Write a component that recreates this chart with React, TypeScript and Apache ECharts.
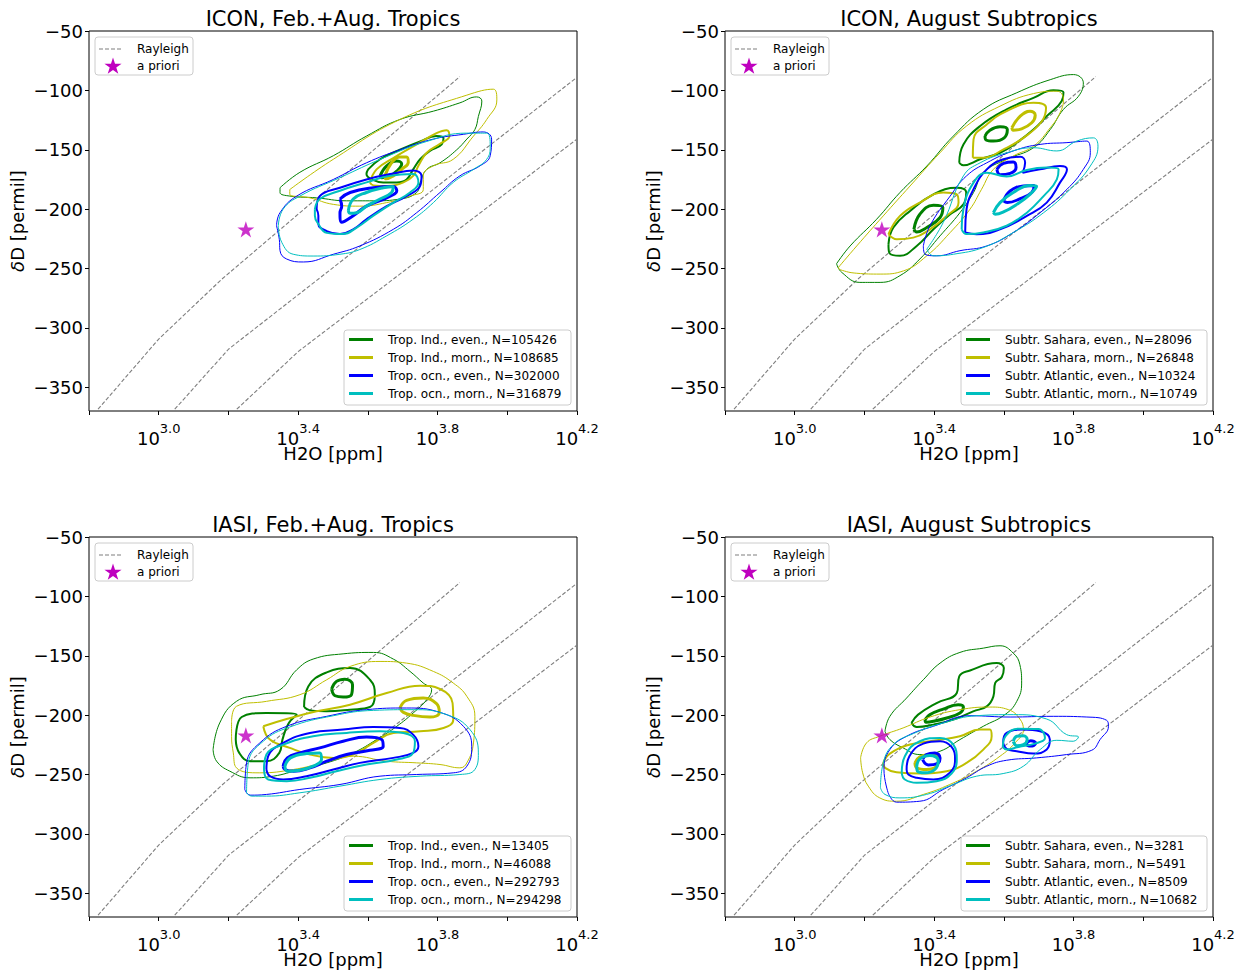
import { useEffect, useRef } from 'react';
import * as echarts from 'echarts';

type Loop = [number, number[][]];

// ---------- axes ----------
const X_MIN = 2.8;
const X_MAX = 4.2;
const Y_MIN = -370;
const Y_MAX = -50;
const X_TICKS = [2.8, 3.0, 3.2, 3.4, 3.6, 3.8, 4.0, 4.2];
const X_LABELS = [3.0, 3.4, 3.8, 4.2];
const Y_TICKS = [-350, -300, -250, -200, -150, -100, -50];

// ---------- Rayleigh curves (log10 H2O, dD) ----------
const RAYLEIGH_1 = [[2.826, -368.5], [3.0, -309.4], [3.181, -259], [3.864, -88.4]];
const RAYLEIGH_2 = [[3.046, -368.5], [3.2, -318], [4.2, -89]];
const RAYLEIGH_3 = [[3.224, -368.5], [3.4, -320], [4.2, -141]];
const A_PRIORI = [3.25, -217];

const TITLES = ['ICON, Feb.+Aug. Tropics', 'ICON, August Subtropics', 'IASI, Feb.+Aug. Tropics', 'IASI, August Subtropics'];
const NAMES_ICON_TROP = ['Trop. Ind., even., N=105426', 'Trop. Ind., morn., N=108685', 'Trop. ocn., even., N=302000', 'Trop. ocn., morn., N=316879'];
const NAMES_ICON_SUB = ['Subtr. Sahara, even., N=28096', 'Subtr. Sahara, morn., N=26848', 'Subtr. Atlantic, even., N=10324', 'Subtr. Atlantic, morn., N=10749'];
const NAMES_IASI_TROP = ['Trop. Ind., even., N=13405', 'Trop. Ind., morn., N=46088', 'Trop. ocn., even., N=292793', 'Trop. ocn., morn., N=294298'];
const NAMES_IASI_SUB = ['Subtr. Sahara, even., N=3281', 'Subtr. Sahara, morn., N=5491', 'Subtr. Atlantic, even., N=8509', 'Subtr. Atlantic, morn., N=10682'];

// ---------- ICON tropics contours: [level, points] ----------
const ICON_TROP_IND_EVEN: Loop[] = [
  [0, [[3.348, -182], [3.405, -169], [3.501, -155], [3.596, -138.5], [3.692, -124.5], [3.788, -117.5], [3.864, -110.5], [3.912, -105.5], [3.927, -109], [3.917, -122], [3.907, -133], [3.884, -141], [3.855, -150], [3.807, -161], [3.769, -166.5], [3.750, -177.5], [3.740, -186], [3.692, -191.5], [3.616, -193], [3.539, -193], [3.453, -190.5], [3.376, -189], [3.348, -186]]],
  [1, [[3.601, -166.5], [3.635, -158], [3.692, -150], [3.750, -143], [3.797, -138.5], [3.817, -140], [3.812, -145.5], [3.778, -151], [3.750, -158], [3.730, -166.5], [3.711, -175], [3.683, -177.5], [3.644, -177.5], [3.611, -175], [3.596, -170.5]]],
  [2, [[3.635, -172], [3.654, -163.5], [3.683, -159.5], [3.697, -162], [3.683, -168], [3.663, -172], [3.640, -173.5]]],
];
const ICON_TROP_IND_MORN: Loop[] = [
  [0, [[3.376, -183.5], [3.501, -158], [3.692, -124.5], [3.884, -104], [3.960, -99], [3.970, -108], [3.941, -124.5], [3.903, -138.5], [3.845, -158], [3.788, -163.5], [3.759, -172], [3.759, -183.5], [3.721, -189], [3.654, -194.5], [3.577, -197.5], [3.501, -196], [3.434, -190.5], [3.376, -187.5]]],
  [1, [[3.606, -177.5], [3.625, -166.5], [3.673, -157], [3.740, -145.5], [3.797, -136], [3.826, -133.5], [3.834, -138.5], [3.807, -145], [3.769, -152.5], [3.745, -163.5], [3.730, -172], [3.702, -177.5], [3.654, -180.5], [3.616, -180]]],
  [2, [[3.649, -172], [3.668, -161], [3.692, -156], [3.711, -156], [3.716, -160.5], [3.697, -166.5], [3.673, -172], [3.652, -174.5]]],
];
const ICON_TROP_OCN_EVEN: Loop[] = [
  [0, [[3.338, -214], [3.348, -203], [3.396, -189], [3.501, -175], [3.596, -161], [3.692, -150], [3.788, -141], [3.874, -137], [3.931, -135], [3.955, -141], [3.951, -155], [3.922, -163.5], [3.864, -172], [3.807, -186], [3.740, -203], [3.673, -217], [3.577, -231], [3.501, -238], [3.415, -244.5], [3.367, -242], [3.348, -235], [3.346, -225.5]]],
  [1, [[3.453, -200], [3.462, -189], [3.520, -182], [3.596, -175], [3.673, -170], [3.730, -167.5], [3.754, -172], [3.750, -180.5], [3.711, -189], [3.654, -197.5], [3.596, -208.5], [3.558, -217], [3.520, -221], [3.482, -218.5], [3.458, -212.5], [3.458, -205.5]]],
  [2, [[3.520, -191.5], [3.549, -186], [3.616, -182], [3.673, -181], [3.683, -184.5], [3.654, -190.5], [3.596, -197.5], [3.558, -205.5], [3.525, -211], [3.520, -203], [3.525, -197.5]]],
];
const ICON_TROP_OCN_MORN: Loop[] = [
  [0, [[3.343, -214], [3.357, -200], [3.405, -189], [3.520, -173.5], [3.644, -157], [3.769, -143], [3.884, -136], [3.941, -136], [3.951, -147], [3.941, -158], [3.903, -166.5], [3.845, -177.5], [3.788, -194.5], [3.730, -208.5], [3.654, -222.5], [3.577, -234], [3.520, -238], [3.443, -239.5], [3.386, -238], [3.353, -228]]],
  [1, [[3.448, -200], [3.462, -191.5], [3.520, -184.5], [3.596, -177.5], [3.663, -172], [3.730, -170.5], [3.745, -177.5], [3.721, -186], [3.673, -194.5], [3.616, -205.5], [3.568, -215.5], [3.529, -221], [3.482, -220], [3.458, -212.5], [3.448, -205.5]]],
  [2, [[3.544, -201.5], [3.558, -191.5], [3.596, -186], [3.644, -182], [3.673, -181], [3.668, -186], [3.635, -191.5], [3.596, -197.5], [3.568, -203], [3.549, -203.5]]],
];

// ---------- ICON subtropics contours ----------
const ICON_SUB_SAH_EVEN: Loop[] = [
  [0, [[3.120, -246], [3.159, -231], [3.235, -208.5], [3.302, -186], [3.379, -163.7], [3.455, -138.5], [3.541, -116], [3.637, -102], [3.733, -91], [3.800, -86.7], [3.828, -93.7], [3.814, -105], [3.771, -116], [3.733, -133], [3.685, -148.3], [3.608, -158], [3.541, -169.3], [3.513, -186], [3.474, -203], [3.417, -222.5], [3.359, -242], [3.302, -256], [3.245, -261.7], [3.187, -261.7], [3.135, -253.3]]],
  [1, [[3.472, -161], [3.484, -145.5], [3.532, -130], [3.608, -116], [3.685, -106.3], [3.742, -99.8], [3.771, -101.5], [3.766, -109], [3.723, -121.7], [3.685, -133], [3.637, -144], [3.589, -152.5], [3.532, -158], [3.484, -163]]],
  [1, [[3.269, -229.5], [3.283, -215.5], [3.331, -201.5], [3.398, -187.5], [3.465, -182], [3.492, -186], [3.484, -196], [3.446, -204.3], [3.398, -217], [3.350, -231], [3.302, -239.3], [3.271, -236.5]]],
  [2, [[3.546, -138.5], [3.560, -133.5], [3.589, -130.7], [3.610, -133], [3.601, -140], [3.570, -142.7], [3.549, -141.8]]],
  [2, [[3.342, -217], [3.359, -204.3], [3.398, -196.8], [3.425, -198.7], [3.417, -207], [3.379, -215.5], [3.350, -219.2]]],
];
const ICON_SUB_SAH_MORN: Loop[] = [
  [0, [[3.125, -249.2], [3.178, -231], [3.254, -205.7], [3.331, -180.5], [3.417, -152.5], [3.493, -130], [3.589, -113.3], [3.685, -102.7], [3.752, -100.7], [3.771, -107.7], [3.761, -119], [3.733, -131.5], [3.685, -147], [3.627, -155.3], [3.570, -166.5], [3.536, -183.3], [3.503, -200], [3.446, -219.7], [3.379, -239.3], [3.312, -252], [3.245, -254.7], [3.178, -254], [3.130, -251]]],
  [1, [[3.511, -156.7], [3.513, -141.3], [3.551, -128.7], [3.608, -117.5], [3.685, -110.5], [3.721, -114.7], [3.709, -126], [3.656, -140], [3.599, -149.7], [3.541, -156.7]]],
  [1, [[3.269, -221], [3.302, -205.7], [3.359, -194.5], [3.426, -186], [3.465, -187.5], [3.470, -194.5], [3.436, -205.7], [3.388, -217], [3.340, -224], [3.293, -225.3]]],
  [2, [[3.623, -131.5], [3.647, -121.7], [3.675, -117.5], [3.690, -120.9], [3.680, -127.3], [3.651, -132.4], [3.627, -133.5]]],
];
const ICON_SUB_ATL_EVEN: Loop[] = [
  [0, [[3.369, -231], [3.388, -214], [3.446, -189], [3.493, -172], [3.551, -161], [3.627, -151], [3.704, -145.5], [3.781, -144], [3.838, -142.7], [3.848, -152.5], [3.828, -166.5], [3.781, -183.3], [3.704, -203], [3.627, -219.7], [3.551, -231], [3.474, -235], [3.407, -239.3], [3.374, -238]]],
  [1, [[3.489, -219.7], [3.493, -200], [3.513, -183.3], [3.551, -166.5], [3.599, -158], [3.647, -155.9], [3.661, -161], [3.654, -169.3], [3.704, -166.5], [3.761, -163.7], [3.781, -166.5], [3.761, -177.7], [3.723, -194.5], [3.666, -205.7], [3.589, -217], [3.522, -221.2]]],
  [2, [[3.580, -166.5], [3.599, -161.5], [3.627, -160.4], [3.635, -165], [3.618, -169.9], [3.589, -171]]],
  [2, [[3.599, -193.1], [3.618, -184.7], [3.656, -180.5], [3.687, -180], [3.680, -186], [3.647, -191.2], [3.610, -194.5]]],
];
const ICON_SUB_ATL_MORN: Loop[] = [
  [0, [[3.379, -233.7], [3.426, -211.3], [3.484, -172], [3.532, -161], [3.608, -152.5], [3.685, -148.3], [3.752, -151], [3.809, -142.7], [3.857, -140], [3.870, -147], [3.848, -163.7], [3.790, -183.3], [3.714, -203], [3.627, -219.7], [3.541, -232.3], [3.455, -238], [3.398, -239.3]]],
  [1, [[3.479, -217], [3.484, -200], [3.513, -177.7], [3.551, -169.3], [3.608, -172.5], [3.666, -167], [3.723, -165], [3.757, -166.5], [3.752, -175], [3.714, -189], [3.666, -203], [3.608, -214], [3.541, -219.7], [3.493, -221]]],
  [2, [[3.570, -203], [3.589, -194.5], [3.627, -186], [3.675, -180], [3.694, -180.5], [3.675, -187.5], [3.637, -196], [3.599, -202.4], [3.575, -204.3]]],
];

// ---------- IASI tropics contours ----------
const IASI_TROP_IND_EVEN: Loop[] = [
  [0, [[3.156, -229], [3.175, -206.6], [3.223, -188.4], [3.290, -182.8], [3.348, -178.6], [3.396, -161.8], [3.443, -152.8], [3.529, -148.4], [3.616, -147.2], [3.673, -152.8], [3.721, -163.2], [3.759, -173], [3.783, -178.6], [3.769, -187], [3.730, -198.2], [3.683, -209.4], [3.625, -220.6], [3.558, -231.8], [3.482, -240.2], [3.405, -245.8], [3.329, -251.4], [3.262, -252.8], [3.204, -247.2], [3.166, -238.8]]],
  [1, [[3.417, -193.2], [3.429, -175.8], [3.482, -164], [3.549, -160.4], [3.606, -170.2], [3.620, -182.8], [3.606, -193.2], [3.549, -195.4], [3.482, -196.8], [3.434, -196]]],
  [1, [[3.221, -220.6], [3.238, -201.6], [3.309, -198.2], [3.396, -199.6], [3.372, -207.2], [3.355, -220.6], [3.346, -231.8], [3.309, -238.8], [3.262, -238.8], [3.231, -231.8]]],
  [2, [[3.496, -178], [3.510, -171.6], [3.534, -169.7], [3.556, -174.4], [3.553, -182.8], [3.529, -184.8], [3.506, -183.7]]],
];
const IASI_TROP_IND_MORN: Loop[] = [
  [0, [[3.209, -205.2], [3.223, -192.6], [3.309, -188.4], [3.405, -182.8], [3.482, -170.2], [3.549, -159], [3.635, -154.8], [3.711, -156.2], [3.788, -163.2], [3.845, -173], [3.884, -184.2], [3.907, -201], [3.903, -223.4], [3.884, -240.2], [3.864, -244.4], [3.807, -241.6], [3.740, -240.2], [3.654, -238.8], [3.558, -234.6], [3.472, -240.2], [3.386, -245.8], [3.290, -248.6], [3.223, -244.4], [3.214, -231.8], [3.209, -217.8]]],
  [1, [[3.300, -209.4], [3.367, -203.3], [3.453, -196.8], [3.549, -191.2], [3.654, -181.4], [3.750, -175.2], [3.807, -178], [3.843, -189.8], [3.845, -203.8], [3.817, -210.8], [3.750, -213.6], [3.673, -215], [3.616, -223.4], [3.558, -233.2], [3.501, -236], [3.434, -233.2], [3.376, -227.6], [3.319, -220.6]]],
  [2, [[3.692, -194], [3.711, -187.6], [3.759, -185.6], [3.797, -190.4], [3.805, -197.7], [3.778, -201.6], [3.730, -200.2], [3.702, -197.7]]],
];
const IASI_TROP_OCN_EVEN: Loop[] = [
  [0, [[3.247, -262.6], [3.252, -240.2], [3.290, -223.4], [3.367, -209.4], [3.482, -201], [3.596, -195.4], [3.711, -194], [3.807, -197.7], [3.874, -209.4], [3.898, -226.2], [3.884, -243], [3.845, -248.6], [3.740, -250], [3.635, -251.4], [3.520, -258.4], [3.405, -262.6], [3.309, -266.8], [3.262, -267.4]]],
  [1, [[3.309, -245.8], [3.314, -234.6], [3.357, -223.4], [3.434, -215], [3.529, -212.2], [3.616, -210], [3.692, -210.8], [3.730, -216.4], [3.745, -226.2], [3.730, -231.8], [3.673, -236], [3.577, -240.2], [3.501, -245.8], [3.424, -251.4], [3.357, -254.2], [3.319, -251.4]]],
  [2, [[3.357, -243], [3.369, -236], [3.405, -231.8], [3.462, -227.6], [3.529, -222], [3.596, -218.4], [3.640, -220.6], [3.644, -226.2], [3.606, -229.6], [3.539, -233.2], [3.482, -238.8], [3.434, -244.4], [3.386, -247.2], [3.362, -245.8]]],
];
const IASI_TROP_OCN_MORN: Loop[] = [
  [0, [[3.252, -265.4], [3.257, -240.2], [3.300, -222], [3.376, -210], [3.501, -200.5], [3.616, -196], [3.730, -195.4], [3.826, -199.6], [3.893, -212.2], [3.917, -231.8], [3.907, -245.8], [3.864, -250], [3.750, -251.4], [3.635, -254.2], [3.520, -259.8], [3.405, -265.4], [3.309, -268.2], [3.266, -268.2]]],
  [1, [[3.302, -245.8], [3.309, -233.2], [3.357, -224.8], [3.443, -217.8], [3.539, -215], [3.635, -213.6], [3.702, -215], [3.735, -222], [3.730, -231.8], [3.683, -237.4], [3.596, -241.6], [3.510, -247.2], [3.434, -252.8], [3.367, -255.6], [3.314, -254.2]]],
  [2, [[3.362, -243], [3.378, -236], [3.424, -232.4], [3.462, -231.8], [3.467, -237.4], [3.443, -243], [3.405, -246.4], [3.369, -247.2]]],
];

// ---------- IASI subtropics contours ----------
const IASI_SUB_SAH_EVEN: Loop[] = [
  [0, [[3.259, -213.6], [3.273, -201], [3.321, -185.6], [3.369, -170.2], [3.417, -156.2], [3.474, -147.2], [3.541, -143.6], [3.589, -141.6], [3.627, -147.8], [3.646, -157.6], [3.651, -173], [3.637, -188.4], [3.603, -199.6], [3.541, -209.4], [3.474, -220.6], [3.417, -230.4], [3.359, -233.2], [3.311, -227.6], [3.273, -220.6]]],
  [1, [[3.335, -206.6], [3.354, -199.6], [3.407, -189.8], [3.465, -181.4], [3.472, -167.4], [3.503, -162.4], [3.579, -156.2], [3.600, -160.4], [3.594, -168], [3.575, -173], [3.570, -184.2], [3.551, -192.6], [3.512, -196.8], [3.455, -203.8], [3.398, -208], [3.350, -210]]],
  [2, [[3.374, -203.8], [3.388, -199.6], [3.426, -194.9], [3.469, -191.2], [3.484, -193.2], [3.474, -198.2], [3.436, -202.4], [3.398, -205.2], [3.377, -206]]],
];
const IASI_SUB_SAH_MORN: Loop[] = [
  [0, [[3.189, -236], [3.206, -223.4], [3.244, -217.8], [3.311, -210.8], [3.388, -201.6], [3.474, -195.4], [3.560, -193.2], [3.613, -195.4], [3.646, -203.3], [3.656, -212.2], [3.632, -223.4], [3.589, -234.6], [3.522, -247.2], [3.445, -258.4], [3.369, -266.8], [3.292, -272.5], [3.244, -269.7], [3.211, -259.8], [3.195, -248.6]]],
  [1, [[3.254, -240.2], [3.273, -232.4], [3.331, -224.8], [3.407, -221.2], [3.474, -217.8], [3.531, -212.2], [3.560, -212.2], [3.565, -217.8], [3.541, -229], [3.493, -240.2], [3.436, -247.2], [3.359, -249.2], [3.292, -248.1], [3.259, -244.4]]],
  [2, [[3.345, -240.2], [3.359, -235.2], [3.388, -233.2], [3.412, -236.6], [3.407, -243], [3.378, -245.8], [3.350, -244.4]]],
];
const IASI_SUB_ATL_EVEN: Loop[] = [
  [0, [[3.268, -265.4], [3.256, -245.8], [3.273, -229], [3.321, -217.8], [3.398, -209.4], [3.503, -200.5], [3.618, -201.6], [3.742, -201], [3.838, -201.6], [3.895, -204.4], [3.900, -209.4], [3.876, -220.6], [3.852, -229.6], [3.780, -233.2], [3.694, -236], [3.608, -238], [3.551, -243], [3.493, -252.8], [3.426, -262.6], [3.359, -272.5], [3.292, -273.3]]],
  [1, [[3.321, -245.8], [3.329, -234.6], [3.369, -224], [3.417, -222], [3.450, -226.8], [3.460, -237.4], [3.445, -248.6], [3.398, -254.2], [3.350, -252.8], [3.326, -250]]],
  [1, [[3.598, -223.4], [3.608, -215], [3.656, -212.2], [3.704, -213.6], [3.732, -220.6], [3.723, -229], [3.685, -232.4], [3.637, -230.4], [3.608, -228.5]]],
  [2, [[3.367, -237.4], [3.378, -233.2], [3.402, -231.8], [3.417, -236], [3.409, -240.8], [3.383, -241.9]]],
  [2, [[3.665, -223.4], [3.677, -221.5], [3.691, -223.4], [3.682, -226], [3.667, -225.4]]],
];
const IASI_SUB_ATL_MORN: Loop[] = [
  [0, [[3.246, -261.2], [3.254, -240.2], [3.283, -224.8], [3.340, -215.6], [3.426, -206.6], [3.522, -200.5], [3.627, -199.6], [3.723, -203.3], [3.780, -216.4], [3.814, -218.4], [3.799, -222], [3.752, -221.2], [3.704, -229], [3.656, -243], [3.598, -249.2], [3.522, -251.4], [3.455, -258.4], [3.378, -266.8], [3.302, -269.7], [3.259, -266.8]]],
  [1, [[3.307, -248.6], [3.316, -234.6], [3.359, -222], [3.417, -219.2], [3.455, -224.8], [3.465, -237.4], [3.450, -249.2], [3.407, -255.6], [3.350, -257], [3.316, -254.2]]],
  [1, [[3.597, -226.8], [3.606, -217.3], [3.642, -211.4], [3.699, -211.7], [3.718, -219.2], [3.689, -224], [3.642, -226.8], [3.608, -229]]],
  [2, [[3.350, -243], [3.359, -236.9], [3.388, -234.1], [3.412, -238.3], [3.402, -245.8], [3.374, -248.6], [3.352, -247.2]]],
  [2, [[3.627, -222], [3.637, -217.8], [3.656, -217.3], [3.667, -220.6], [3.656, -224.8], [3.637, -225.7]]],
];

const PANELS = [
  { title: TITLES[0], names: NAMES_ICON_TROP, groups: [ICON_TROP_IND_EVEN, ICON_TROP_IND_MORN, ICON_TROP_OCN_EVEN, ICON_TROP_OCN_MORN] },
  { title: TITLES[1], names: NAMES_ICON_SUB, groups: [ICON_SUB_SAH_EVEN, ICON_SUB_SAH_MORN, ICON_SUB_ATL_EVEN, ICON_SUB_ATL_MORN] },
  { title: TITLES[2], names: NAMES_IASI_TROP, groups: [IASI_TROP_IND_EVEN, IASI_TROP_IND_MORN, IASI_TROP_OCN_EVEN, IASI_TROP_OCN_MORN] },
  { title: TITLES[3], names: NAMES_IASI_SUB, groups: [IASI_SUB_SAH_EVEN, IASI_SUB_SAH_MORN, IASI_SUB_ATL_EVEN, IASI_SUB_ATL_MORN] },
];

// ---------- styling / layout ----------
const FONT = 'DejaVu Sans';
const COLORS = ['#008000', '#bfbf00', '#0000ff', '#00bfbf'];
const STAR_COLOR = '#bf00bf';
const GREY = '#7f7f7f';
const LEVEL_WIDTHS = [1, 2, 3];
const GRIDS = [
  { left: 89, top: 31 },
  { left: 725, top: 31 },
  { left: 89, top: 537 },
  { left: 725, top: 537 },
];
const GW = 488;
const GH = 380;
const LEGEND_W = [227, 246, 227, 246];
const STAR_PATH =
  'path://M0,-10L2.245,-3.09L9.511,-3.09L3.633,1.18L5.878,8.09L0,3.82L-5.878,8.09L-3.633,1.18L-9.511,-3.09L-2.245,-3.09Z';

function starPoints(cx: number, cy: number, R: number) {
  const pts: number[][] = [];
  for (let k = 0; k < 10; k++) {
    const r = k % 2 === 0 ? R : R * 0.382;
    const a = -Math.PI / 2 + (k * Math.PI) / 5;
    pts.push([cx + r * Math.cos(a), cy + r * Math.sin(a)]);
  }
  return pts;
}

function minusFmt(v: number) {
  return v < 0 ? '\u2212' + Math.abs(v) : String(v);
}

function buildOption() {
  const series: any[] = [];
  const xAxis: any[] = [];
  const yAxis: any[] = [];
  const grid: any[] = [];
  const title: any[] = [];
  const graphic: any[] = [];

  PANELS.forEach((p, i) => {
    const g = GRIDS[i];
    grid.push({ left: g.left, top: g.top, width: GW, height: GH, show: true, borderColor: '#000', borderWidth: 1, backgroundColor: '#fff', containLabel: false });
    xAxis.push({
      type: 'value', gridIndex: i, min: X_MIN, max: X_MAX,
      splitLine: { show: false },
      axisLine: { show: false },
      axisTick: { show: true, length: 4, lineStyle: { color: '#000' }, customValues: X_TICKS },
      axisLabel: {
        customValues: X_LABELS, margin: 11,
        formatter: (v: number) => `{b|10}{s|${v.toFixed(1)}}`,
        rich: {
          b: { fontSize: 18, fontFamily: FONT, color: '#000', lineHeight: 25, verticalAlign: 'bottom' },
          s: { fontSize: 13, fontFamily: FONT, color: '#000', lineHeight: 8, verticalAlign: 'top' },
        },
      },
      name: 'H2O [ppm]', nameLocation: 'middle', nameGap: 35, nameMoveOverlap: false,
      nameTextStyle: { fontSize: 18, lineHeight: 14, fontFamily: FONT, color: '#000' },
    });
    yAxis.push({
      type: 'value', gridIndex: i, min: Y_MIN, max: Y_MAX,
      splitLine: { show: false },
      axisLine: { show: false },
      axisTick: { show: true, length: 4, lineStyle: { color: '#000' }, customValues: Y_TICKS },
      axisLabel: { customValues: Y_TICKS, formatter: minusFmt, fontSize: 18, fontFamily: FONT, color: '#000', margin: 6 },
      name: '{i|δ}D [permil]', nameLocation: 'middle', nameGap: 63, nameMoveOverlap: false,
      nameTextStyle: { fontSize: 18, fontFamily: FONT, color: '#000', rich: { i: { fontSize: 18, fontFamily: FONT, fontStyle: 'italic', color: '#000' } } },
    });
    title.push({
      text: p.title, left: g.left + GW / 2, top: g.top - 23, textAlign: 'center', padding: 0,
      textStyle: { fontSize: 21, fontWeight: 'normal', fontFamily: FONT, color: '#000' },
    });

    [RAYLEIGH_1, RAYLEIGH_2, RAYLEIGH_3].forEach((r) => {
      series.push({
        type: 'line', xAxisIndex: i, yAxisIndex: i, data: r, symbol: 'none', silent: true, z: 2,
        lineStyle: { color: GREY, width: 1.1, type: [4, 2] },
      });
    });

    p.groups.forEach((loops, c) => {
      loops.forEach(([level, pts]) => {
        series.push({
          type: 'line', name: p.names[c], xAxisIndex: i, yAxisIndex: i,
          data: [...pts, pts[0]], smooth: 0.45, symbol: 'none', silent: true, z: 3 + c,
          lineStyle: { color: COLORS[c], width: LEVEL_WIDTHS[level] },
        });
      });
    });

    series.push({
      type: 'scatter', xAxisIndex: i, yAxisIndex: i, data: [A_PRIORI], symbol: STAR_PATH,
      symbolSize: 17, symbolKeepAspect: true, itemStyle: { color: STAR_COLOR }, silent: true, z: 10,
    });

    // upper-left legend
    const lx = g.left + 6;
    const ly = g.top + 6;
    graphic.push({ type: 'rect', z: 100, shape: { x: lx, y: ly, width: 98, height: 38, r: 3 }, style: { fill: 'rgba(255,255,255,0.8)', stroke: '#cccccc', lineWidth: 1 } });
    graphic.push({ type: 'line', z: 101, shape: { x1: lx + 4, y1: ly + 12, x2: lx + 27, y2: ly + 12 }, style: { stroke: GREY, lineWidth: 1.1, lineDash: [4, 2] } });
    graphic.push({ type: 'text', z: 101, x: lx + 42, y: ly + 12, style: { text: 'Rayleigh', fontSize: 12, fontFamily: FONT, fill: '#000', align: 'left', verticalAlign: 'middle' } });
    graphic.push({ type: 'polygon', z: 101, shape: { points: starPoints(lx + 18, ly + 29.5, 9) }, style: { fill: STAR_COLOR } });
    graphic.push({ type: 'text', z: 101, x: lx + 42, y: ly + 29, style: { text: 'a priori', fontSize: 12, fontFamily: FONT, fill: '#000', align: 'left', verticalAlign: 'middle' } });

    // lower-right legend
    const w = LEGEND_W[i];
    const bx = g.left + GW - w - 6;
    const by = g.top + GH - 81;
    graphic.push({ type: 'rect', z: 100, shape: { x: bx, y: by, width: w, height: 75, r: 3 }, style: { fill: 'rgba(255,255,255,0.8)', stroke: '#cccccc', lineWidth: 1 } });
    p.names.forEach((nm, k) => {
      const yy = by + 9.5 + 18 * k;
      graphic.push({ type: 'line', z: 101, shape: { x1: bx + 5, y1: yy, x2: bx + 29, y2: yy }, style: { stroke: COLORS[k], lineWidth: 3 } });
      graphic.push({ type: 'text', z: 101, x: bx + 44, y: yy, style: { text: nm, fontSize: 12, fontFamily: FONT, fill: '#000', align: 'left', verticalAlign: 'middle' } });
    });
  });

  return {
    animation: false,
    backgroundColor: '#fff',
    textStyle: { fontFamily: FONT },
    title, grid, xAxis, yAxis, series, graphic,
  };
}

export default function App() {
  const ref = useRef<HTMLDivElement>(null);
  useEffect(() => {
    const chart = echarts.init(ref.current!, null, { renderer: 'svg' });
    chart.setOption(buildOption() as any);
    return () => chart.dispose();
  }, []);
  return <div ref={ref} style={{ position: 'absolute', left: 0, top: 0, width: 1241, height: 972, background: '#fff' }} />;
}
